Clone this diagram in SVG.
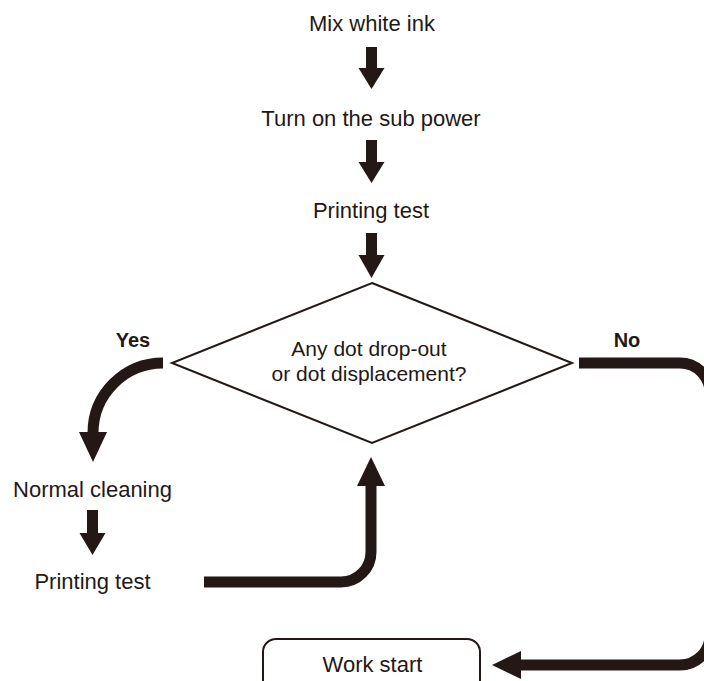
<svg xmlns="http://www.w3.org/2000/svg" width="704" height="681" viewBox="0 0 704 681">
<style>
.t{font-family:"Liberation Sans",Arial,sans-serif;font-size:22px;fill:#231815;text-anchor:middle}
.d{font-family:"Liberation Sans",Arial,sans-serif;font-size:21px;fill:#231815;text-anchor:middle}
.b{font-family:"Liberation Sans",Arial,sans-serif;font-size:20px;font-weight:bold;fill:#231815;text-anchor:middle}
.shape{fill:#fff;stroke:#231815;stroke-width:2}
.line{fill:none;stroke:#231815;stroke-width:11}
.head{fill:#231815}
</style>
<rect width="704" height="681" fill="#fff"/>
<g id="n1"><text class="t" x="372" y="31">Mix white ink</text></g>
<g id="n2"><text class="t" x="371" y="126">Turn on the sub power</text></g>
<g id="n3"><text class="t" x="371" y="218">Printing test</text></g>
<g id="n4">
<polygon class="shape" points="372,283 572,363 372,443 172,363"/>
<text class="d" x="369" y="356">Any dot drop-out</text>
<text class="d" x="369" y="381">or dot displacement?</text>
</g>
<g id="n5"><text class="t" x="92.5" y="497">Normal cleaning</text></g>
<g id="n6"><text class="t" x="92.5" y="589">Printing test</text></g>
<g id="n7">
<rect class="shape" x="263" y="639" width="217" height="70" rx="13"/>
<text class="t" x="372.5" y="672">Work start</text>
</g>
<g id="connectors">
<path class="line" d="M371.5,47 V69"/>
<polygon class="head" points="358.5,68 384.5,68 371.5,89"/>
<path class="line" d="M371.5,140 V163"/>
<polygon class="head" points="358.5,162 384.5,162 371.5,183"/>
<path class="line" d="M371.5,233 V256"/>
<polygon class="head" points="358.5,255 384.5,255 371.5,278"/>
<path class="line" d="M163,363 A70,70 0 0 0 93,433 V434"/>
<polygon class="head" points="79,432 107,432 93,462"/>
<text class="b" x="133" y="347">Yes</text>
<path class="line" d="M92.5,510 V534"/>
<polygon class="head" points="79.5,533 105.5,533 92.5,555"/>
<path class="line" d="M204,582 H341 A30,30 0 0 0 371,552 V484"/>
<polygon class="head" points="357,486 385,486 371,457"/>
<path class="line" d="M579,363 H680 A30,30 0 0 1 710,393 V635 A30,30 0 0 1 680,665 H519"/>
<polygon class="head" points="521,651 521,679 492,665"/>
<text class="b" x="627" y="347">No</text>
</g>
</svg>
